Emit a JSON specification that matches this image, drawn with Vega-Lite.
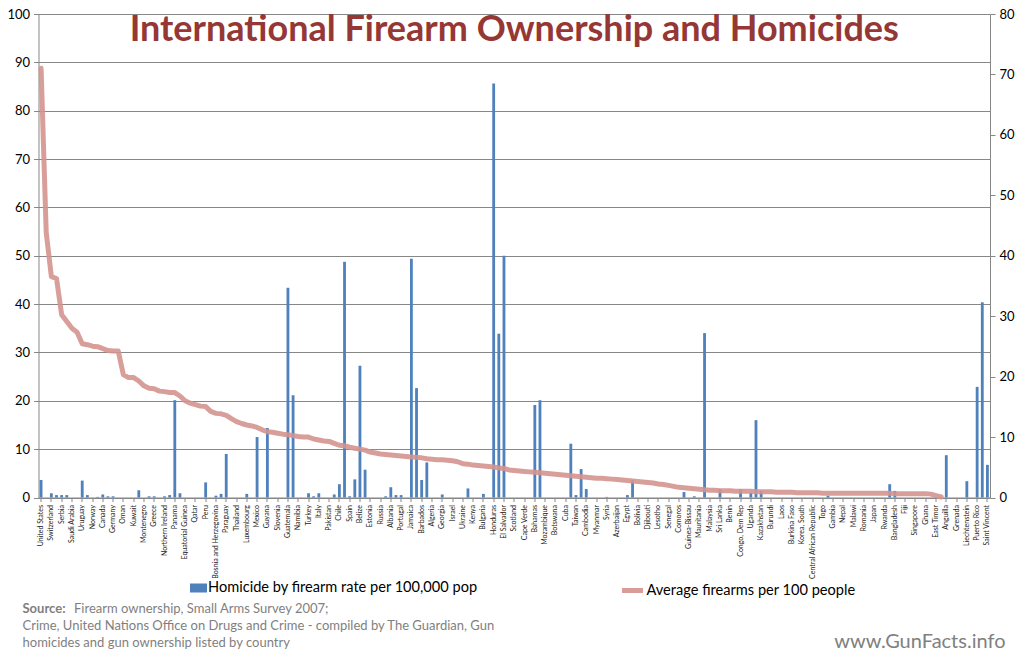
{
  "$schema": "https://vega.github.io/schema/vega-lite/v6.json",
  "width": 951.5,
  "height": 483.5,
  "autosize": {"type": "none"},
  "padding": {"left": 38.5, "top": 14, "right": 34, "bottom": 164.5},
  "background": "white",
  "config": {
    "view": {"stroke": null},
    "font": "Lato",
    "axis": {"labelFont": "Lato", "titleFont": "Lato"},
    "legend": {"labelFont": "Lato"},
    "mark": {"invalid": "break-paths-show-domains"}
  },
  "title": {
    "text": "International Firearm Ownership and Homicides",
    "font": "Lato",
    "fontSize": 36,
    "fontWeight": "bold",
    "color": "#953735",
    "anchor": "middle",
    "frame": "group",
    "baseline": "alphabetic",
    "offset": -69
  },
  "data": {
    "values": [
      {"country": "United States", "firearms": 88.8, "homicide": 2.9},
      {"country": "Yemen", "firearms": 54.8, "homicide": null},
      {"country": "Switzerland", "firearms": 45.7, "homicide": 0.7},
      {"country": "Finland", "firearms": 45.3, "homicide": 0.4},
      {"country": "Serbia", "firearms": 37.8, "homicide": 0.4},
      {"country": "Cyprus", "firearms": 36.4, "homicide": 0.4},
      {"country": "Saudi Arabia", "firearms": 35.0, "homicide": null},
      {"country": "Iraq", "firearms": 34.2, "homicide": null},
      {"country": "Uruguay", "firearms": 31.8, "homicide": 2.8},
      {"country": "Sweden", "firearms": 31.6, "homicide": 0.4},
      {"country": "Norway", "firearms": 31.3, "homicide": null},
      {"country": "France", "firearms": 31.2, "homicide": 0.1},
      {"country": "Canada", "firearms": 30.8, "homicide": 0.5},
      {"country": "Austria", "firearms": 30.4, "homicide": 0.2},
      {"country": "Germany", "firearms": 30.3, "homicide": 0.2},
      {"country": "Iceland", "firearms": 30.3, "homicide": null},
      {"country": "Oman", "firearms": 25.4, "homicide": null},
      {"country": "Bahrain", "firearms": 24.8, "homicide": null},
      {"country": "Kuwait", "firearms": 24.8, "homicide": null},
      {"country": "Macedonia", "firearms": 24.1, "homicide": 1.2},
      {"country": "Montenegro", "firearms": 23.1, "homicide": null},
      {"country": "New Zealand", "firearms": 22.6, "homicide": 0.2},
      {"country": "Greece", "firearms": 22.5, "homicide": 0.2},
      {"country": "Croatia", "firearms": 22.0, "homicide": null},
      {"country": "Northern Ireland", "firearms": 21.9, "homicide": 0.2},
      {"country": "Lebanon", "firearms": 21.7, "homicide": 0.4},
      {"country": "Panama", "firearms": 21.7, "homicide": 16.1},
      {"country": "Belgium", "firearms": 21.0, "homicide": 0.7},
      {"country": "Equatorial Guinea", "firearms": 20.0, "homicide": null},
      {"country": "Angola", "firearms": 19.5, "homicide": null},
      {"country": "Qatar", "firearms": 19.2, "homicide": null},
      {"country": "Czech Republic", "firearms": 18.9, "homicide": null},
      {"country": "Peru", "firearms": 18.8, "homicide": 2.5},
      {"country": "Malta", "firearms": 17.8, "homicide": null},
      {"country": "Bosnia and Herzegovina", "firearms": 17.4, "homicide": 0.3},
      {"country": "Latvia", "firearms": 17.3, "homicide": 0.6},
      {"country": "Paraguay", "firearms": 17.0, "homicide": 7.2},
      {"country": "Slovakia", "firearms": 16.3, "homicide": null},
      {"country": "Thailand", "firearms": 15.7, "homicide": null},
      {"country": "Ireland", "firearms": 15.3, "homicide": null},
      {"country": "Luxembourg", "firearms": 15.0, "homicide": 0.6},
      {"country": "Australia", "firearms": 14.8, "homicide": null},
      {"country": "Mexico", "firearms": 14.5, "homicide": 10.0},
      {"country": "Libya", "firearms": 14.0, "homicide": null},
      {"country": "Guyana", "firearms": 13.6, "homicide": 11.5},
      {"country": "Lithuania", "firearms": 13.5, "homicide": null},
      {"country": "Slovenia", "firearms": 13.3, "homicide": null},
      {"country": "Denmark", "firearms": 13.1, "homicide": null},
      {"country": "Guatemala", "firearms": 13.0, "homicide": 34.7},
      {"country": "Brazil", "firearms": 12.8, "homicide": 16.9},
      {"country": "Namibia", "firearms": 12.6, "homicide": null},
      {"country": "Ecuador", "firearms": 12.5, "homicide": null},
      {"country": "Turkey", "firearms": 12.5, "homicide": 0.7},
      {"country": "Hungary", "firearms": 12.1, "homicide": 0.2},
      {"country": "Italy", "firearms": 11.9, "homicide": 0.7},
      {"country": "Philippines", "firearms": 11.7, "homicide": null},
      {"country": "Pakistan", "firearms": 11.6, "homicide": null},
      {"country": "Netherlands", "firearms": 11.2, "homicide": 0.5},
      {"country": "Chile", "firearms": 10.8, "homicide": 2.2},
      {"country": "Venezuela", "firearms": 10.7, "homicide": 39.0},
      {"country": "Spain", "firearms": 10.4, "homicide": 0.2},
      {"country": "Argentina", "firearms": 10.2, "homicide": 3.0},
      {"country": "Belize", "firearms": 10.0, "homicide": 21.8},
      {"country": "Costa Rica", "firearms": 9.8, "homicide": 4.6},
      {"country": "Estonia", "firearms": 9.4, "homicide": null},
      {"country": "Iran", "firearms": 9.2, "homicide": null},
      {"country": "Russia", "firearms": 9.0, "homicide": null},
      {"country": "Poland", "firearms": 8.9, "homicide": 0.2},
      {"country": "Albania", "firearms": 8.8, "homicide": 1.7},
      {"country": "Moldova", "firearms": 8.7, "homicide": 0.4},
      {"country": "Portugal", "firearms": 8.6, "homicide": 0.4},
      {"country": "Nicaragua", "firearms": 8.5, "homicide": null},
      {"country": "Jamaica", "firearms": 8.4, "homicide": 39.5},
      {"country": "Trinidad and Tobago", "firearms": 8.3, "homicide": 18.1},
      {"country": "Barbados", "firearms": 8.2, "homicide": 2.9},
      {"country": "South Africa", "firearms": 8.0, "homicide": 5.8},
      {"country": "Algeria", "firearms": 7.9, "homicide": null},
      {"country": "Mongolia", "firearms": 7.8, "homicide": null},
      {"country": "Georgia", "firearms": 7.8, "homicide": 0.5},
      {"country": "Armenia", "firearms": 7.7, "homicide": null},
      {"country": "Israel", "firearms": 7.6, "homicide": null},
      {"country": "Brunei", "firearms": 7.4, "homicide": null},
      {"country": "Ukraine", "firearms": 7.0, "homicide": null},
      {"country": "Dominican Republic", "firearms": 6.9, "homicide": 1.5},
      {"country": "Kenya", "firearms": 6.7, "homicide": null},
      {"country": "Belarus", "firearms": 6.6, "homicide": null},
      {"country": "Bulgaria", "firearms": 6.5, "homicide": 0.6},
      {"country": "United Arab Emirates", "firearms": 6.4, "homicide": null},
      {"country": "Honduras", "firearms": 6.3, "homicide": 68.5},
      {"country": "Colombia", "firearms": 6.1, "homicide": 27.1},
      {"country": "El Salvador", "firearms": 6.0, "homicide": 40.0},
      {"country": "England and Wales", "firearms": 5.7, "homicide": null},
      {"country": "Scotland", "firearms": 5.6, "homicide": null},
      {"country": "Sierra Leone", "firearms": 5.5, "homicide": null},
      {"country": "Cape Verde", "firearms": 5.4, "homicide": null},
      {"country": "Zambia", "firearms": 5.3, "homicide": null},
      {"country": "Bahamas", "firearms": 5.2, "homicide": 15.3},
      {"country": "Saint Lucia", "firearms": 5.1, "homicide": 16.1},
      {"country": "Mozambique", "firearms": 5.0, "homicide": null},
      {"country": "Vietnam", "firearms": 4.9, "homicide": null},
      {"country": "Botswana", "firearms": 4.8, "homicide": null},
      {"country": "Chad", "firearms": 4.7, "homicide": null},
      {"country": "Cuba", "firearms": 4.6, "homicide": null},
      {"country": "Haiti", "firearms": 4.5, "homicide": 8.9},
      {"country": "Taiwan", "firearms": 4.4, "homicide": 0.4},
      {"country": "Zimbabwe", "firearms": 4.3, "homicide": 4.7},
      {"country": "Cambodia", "firearms": 4.2, "homicide": 1.4},
      {"country": "Sudan", "firearms": 4.1, "homicide": null},
      {"country": "Myanmar", "firearms": 4.0, "homicide": null},
      {"country": "Tanzania", "firearms": 4.0, "homicide": null},
      {"country": "Syria", "firearms": 3.9, "homicide": 0.1},
      {"country": "Kyrgyzstan", "firearms": 3.8, "homicide": null},
      {"country": "Azerbaijan", "firearms": 3.7, "homicide": null},
      {"country": "Jordan", "firearms": 3.6, "homicide": null},
      {"country": "Egypt", "firearms": 3.5, "homicide": 0.4},
      {"country": "Morocco", "firearms": 3.4, "homicide": 2.9},
      {"country": "Bolivia", "firearms": 3.3, "homicide": null},
      {"country": "Cameroon", "firearms": 3.2, "homicide": null},
      {"country": "Djibouti", "firearms": 3.1, "homicide": null},
      {"country": "Tajikistan", "firearms": 3.0, "homicide": null},
      {"country": "Lesotho", "firearms": 2.8, "homicide": null},
      {"country": "Uzbekistan", "firearms": 2.7, "homicide": null},
      {"country": "Senegal", "firearms": 2.5, "homicide": null},
      {"country": "Niger", "firearms": 2.3, "homicide": null},
      {"country": "Comoros", "firearms": 2.1, "homicide": null},
      {"country": "Mali", "firearms": 2.0, "homicide": 0.9},
      {"country": "Guinea-Bissau", "firearms": 1.9, "homicide": null},
      {"country": "Tunisia", "firearms": 1.8, "homicide": 0.2},
      {"country": "Mauritania", "firearms": 1.7, "homicide": null},
      {"country": "Swaziland", "firearms": 1.6, "homicide": 27.2},
      {"country": "Malaysia", "firearms": 1.5, "homicide": null},
      {"country": "Ethiopia", "firearms": 1.5, "homicide": null},
      {"country": "Sri Lanka", "firearms": 1.4, "homicide": 1.4},
      {"country": "Nigeria", "firearms": 1.4, "homicide": null},
      {"country": "Benin", "firearms": 1.4, "homicide": null},
      {"country": "Madagascar", "firearms": 1.3, "homicide": null},
      {"country": "Congo, Dem Rep", "firearms": 1.3, "homicide": 1.4},
      {"country": "Gabon", "firearms": 1.3, "homicide": null},
      {"country": "Uganda", "firearms": 1.3, "homicide": 0.8},
      {"country": "Papua New Guinea", "firearms": 1.2, "homicide": 12.8},
      {"country": "Kazakhstan", "firearms": 1.2, "homicide": 1.1},
      {"country": "Eritrea", "firearms": 1.2, "homicide": null},
      {"country": "Burundi", "firearms": 1.2, "homicide": null},
      {"country": "Liberia", "firearms": 1.1, "homicide": null},
      {"country": "Laos", "firearms": 1.1, "homicide": null},
      {"country": "India", "firearms": 1.1, "homicide": null},
      {"country": "Burkina Faso", "firearms": 1.1, "homicide": null},
      {"country": "China", "firearms": 1.0, "homicide": null},
      {"country": "Korea, South", "firearms": 1.0, "homicide": null},
      {"country": "Indonesia", "firearms": 1.0, "homicide": null},
      {"country": "Central African Republic", "firearms": 1.0, "homicide": null},
      {"country": "Côte d'Ivoire", "firearms": 1.0, "homicide": null},
      {"country": "Togo", "firearms": 0.9, "homicide": null},
      {"country": "Congo, Rep", "firearms": 0.9, "homicide": 0.3},
      {"country": "Gambia", "firearms": 0.9, "homicide": null},
      {"country": "Somalia", "firearms": 0.9, "homicide": null},
      {"country": "Nepal", "firearms": 0.9, "homicide": null},
      {"country": "Bhutan", "firearms": 0.9, "homicide": null},
      {"country": "Malawi", "firearms": 0.9, "homicide": null},
      {"country": "Palestine", "firearms": 0.9, "homicide": null},
      {"country": "Romania", "firearms": 0.9, "homicide": null},
      {"country": "Solomon Islands", "firearms": 0.9, "homicide": null},
      {"country": "Japan", "firearms": 0.9, "homicide": null},
      {"country": "Guinea", "firearms": 0.9, "homicide": null},
      {"country": "Rwanda", "firearms": 0.9, "homicide": null},
      {"country": "Mauritius", "firearms": 0.9, "homicide": 2.2},
      {"country": "Bangladesh", "firearms": 0.8, "homicide": 1.1},
      {"country": "Tonga", "firearms": 0.8, "homicide": null},
      {"country": "Fiji", "firearms": 0.8, "homicide": null},
      {"country": "Vanuatu", "firearms": 0.8, "homicide": null},
      {"country": "Singapore", "firearms": 0.8, "homicide": null},
      {"country": "Samoa", "firearms": 0.8, "homicide": null},
      {"country": "Ghana", "firearms": 0.8, "homicide": null},
      {"country": "Maldives", "firearms": 0.7, "homicide": null},
      {"country": "East Timor", "firearms": 0.4, "homicide": null},
      {"country": "Andorra", "firearms": 0.1, "homicide": null},
      {"country": "Anguilla", "firearms": null, "homicide": 7.0},
      {"country": "Antigua and Barbuda", "firearms": null, "homicide": null},
      {"country": "Grenada", "firearms": null, "homicide": null},
      {"country": "Montserrat", "firearms": null, "homicide": null},
      {"country": "Liechtenstein", "firearms": null, "homicide": 2.7},
      {"country": "Monaco", "firearms": null, "homicide": null},
      {"country": "Puerto Rico", "firearms": null, "homicide": 18.3},
      {"country": "Saint Kitts and Nevis", "firearms": null, "homicide": 32.3},
      {"country": "Saint Vincent", "firearms": null, "homicide": 5.4}
    ]
  },
  "layer": [
    {
      "mark": {"type": "bar"},
      "encoding": {
        "x": {
          "field": "country",
          "type": "nominal",
          "sort": null,
          "scale": {"paddingInner": 0.45, "paddingOuter": 0.225},
          "axis": {
            "orient": "bottom",
            "values": ["United States", "Switzerland", "Serbia", "Saudi Arabia", "Uruguay", "Norway", "Canada", "Germany", "Oman", "Kuwait", "Montenegro", "Greece", "Northern Ireland", "Panama", "Equatorial Guinea", "Qatar", "Peru", "Bosnia and Herzegovina", "Paraguay", "Thailand", "Luxembourg", "Mexico", "Guyana", "Slovenia", "Guatemala", "Namibia", "Turkey", "Italy", "Pakistan", "Chile", "Spain", "Belize", "Estonia", "Russia", "Albania", "Portugal", "Jamaica", "Barbados", "Algeria", "Georgia", "Israel", "Ukraine", "Kenya", "Bulgaria", "Honduras", "El Salvador", "Scotland", "Cape Verde", "Bahamas", "Mozambique", "Botswana", "Cuba", "Taiwan", "Cambodia", "Myanmar", "Syria", "Azerbaijan", "Egypt", "Bolivia", "Djibouti", "Lesotho", "Senegal", "Comoros", "Guinea-Bissau", "Mauritania", "Malaysia", "Sri Lanka", "Benin", "Congo, Dem Rep", "Uganda", "Kazakhstan", "Burundi", "Laos", "Burkina Faso", "Korea, South", "Central African Republic", "Togo", "Gambia", "Nepal", "Malawi", "Romania", "Japan", "Rwanda", "Bangladesh", "Fiji", "Singapore", "Ghana", "East Timor", "Anguilla", "Grenada", "Liechtenstein", "Puerto Rico", "Saint Vincent"],
            "labelAngle": -90,
            "labelFontSize": 7,
            "labelColor": "#222222",
            "labelPadding": 3,
            "tickSize": 4,
            "tickColor": "#878787",
            "domainColor": "#878787",
            "title": ["Crime, United Nations Office on Drugs and Crime - compiled by The Guardian, Gun", "homicides and gun ownership listed by country"],
            "titleX": -16.5,
            "titleY": 131.5,
            "titleAlign": "left",
            "titleAnchor": "start",
            "titleBaseline": "alphabetic",
            "titleFontSize": 13,
            "titleFontWeight": "normal",
            "titleColor": "#7F7F7F",
            "titleLineHeight": 17
          }
        },
        "y": {
          "field": "homicide",
          "type": "quantitative",
          "scale": {"domain": [0, 80], "nice": false},
          "axis": {
            "orient": "right",
            "values": [0, 10, 20, 30, 40, 50, 60, 70, 80],
            "grid": false,
            "labelFontSize": 13,
            "labelColor": "#000000",
            "labelPadding": 4,
            "tickSize": 5,
            "tickColor": "#878787",
            "domainColor": "#878787",
            "title": "www.GunFacts.info",
            "titleAngle": 0,
            "titleX": 15,
            "titleY": 633,
            "titleAlign": "right",
            "titleBaseline": "alphabetic",
            "titleFontSize": 20,
            "titleFontWeight": "normal",
            "titleColor": "#808080"
          }
        },
        "fill": {
          "datum": "Homicide by firearm rate per 100,000 pop",
          "scale": {"range": ["#4F81BD"]},
          "legend": {
            "orient": "none",
            "legendX": 151.5,
            "legendY": 565.5,
            "title": null,
            "symbolType": "M-1,-0.53H1V0.53H-1Z",
            "symbolSize": 289,
            "symbolStrokeWidth": 0,
            "labelFontSize": 14.6,
            "labelColor": "#000000",
            "labelOffset": 1,
            "labelLimit": 500
          }
        }
      }
    },
    {
      "mark": {"type": "line", "strokeWidth": 5, "strokeJoin": "round", "strokeCap": "round", "opacity": 0.9},
      "encoding": {
        "x": {
          "field": "country",
          "type": "nominal",
          "sort": null,
          "axis": {
            "orient": "top",
            "labels": false,
            "ticks": false,
            "domain": false,
            "grid": false,
            "title": "Firearm ownership, Small Arms Survey 2007;",
            "titleX": 35,
            "titleY": 598,
            "titleAlign": "left",
            "titleAnchor": "start",
            "titleBaseline": "alphabetic",
            "titleFontSize": 13,
            "titleFontWeight": "normal",
            "titleColor": "#7F7F7F"
          }
        },
        "y": {
          "field": "firearms",
          "type": "quantitative",
          "scale": {"domain": [0, 100], "nice": false},
          "axis": {
            "orient": "left",
            "values": [0, 10, 20, 30, 40, 50, 60, 70, 80, 90, 100],
            "grid": true,
            "gridColor": "#878787",
            "gridWidth": 1,
            "labelFontSize": 13,
            "labelColor": "#000000",
            "labelPadding": 4,
            "tickSize": 5,
            "tickColor": "#878787",
            "domainColor": "#878787",
            "title": "Source:",
            "titleAngle": 0,
            "titleX": -16.5,
            "titleY": 598,
            "titleAlign": "left",
            "titleBaseline": "alphabetic",
            "titleFontSize": 13,
            "titleFontWeight": "bold",
            "titleColor": "#7F7F7F"
          }
        },
        "stroke": {
          "datum": "Average firearms per 100 people",
          "scale": {"range": ["#D4938F"]},
          "legend": {
            "orient": "none",
            "legendX": 581,
            "legendY": 563.5,
            "title": null,
            "symbolType": "stroke",
            "symbolSize": 441,
            "symbolStrokeWidth": 5,
            "labelFontSize": 14.6,
            "labelColor": "#000000",
            "labelOffset": 1,
            "labelLimit": 500
          }
        }
      }
    }
  ],
  "resolve": {"scale": {"y": "independent"}, "axis": {"x": "independent"}}
}
